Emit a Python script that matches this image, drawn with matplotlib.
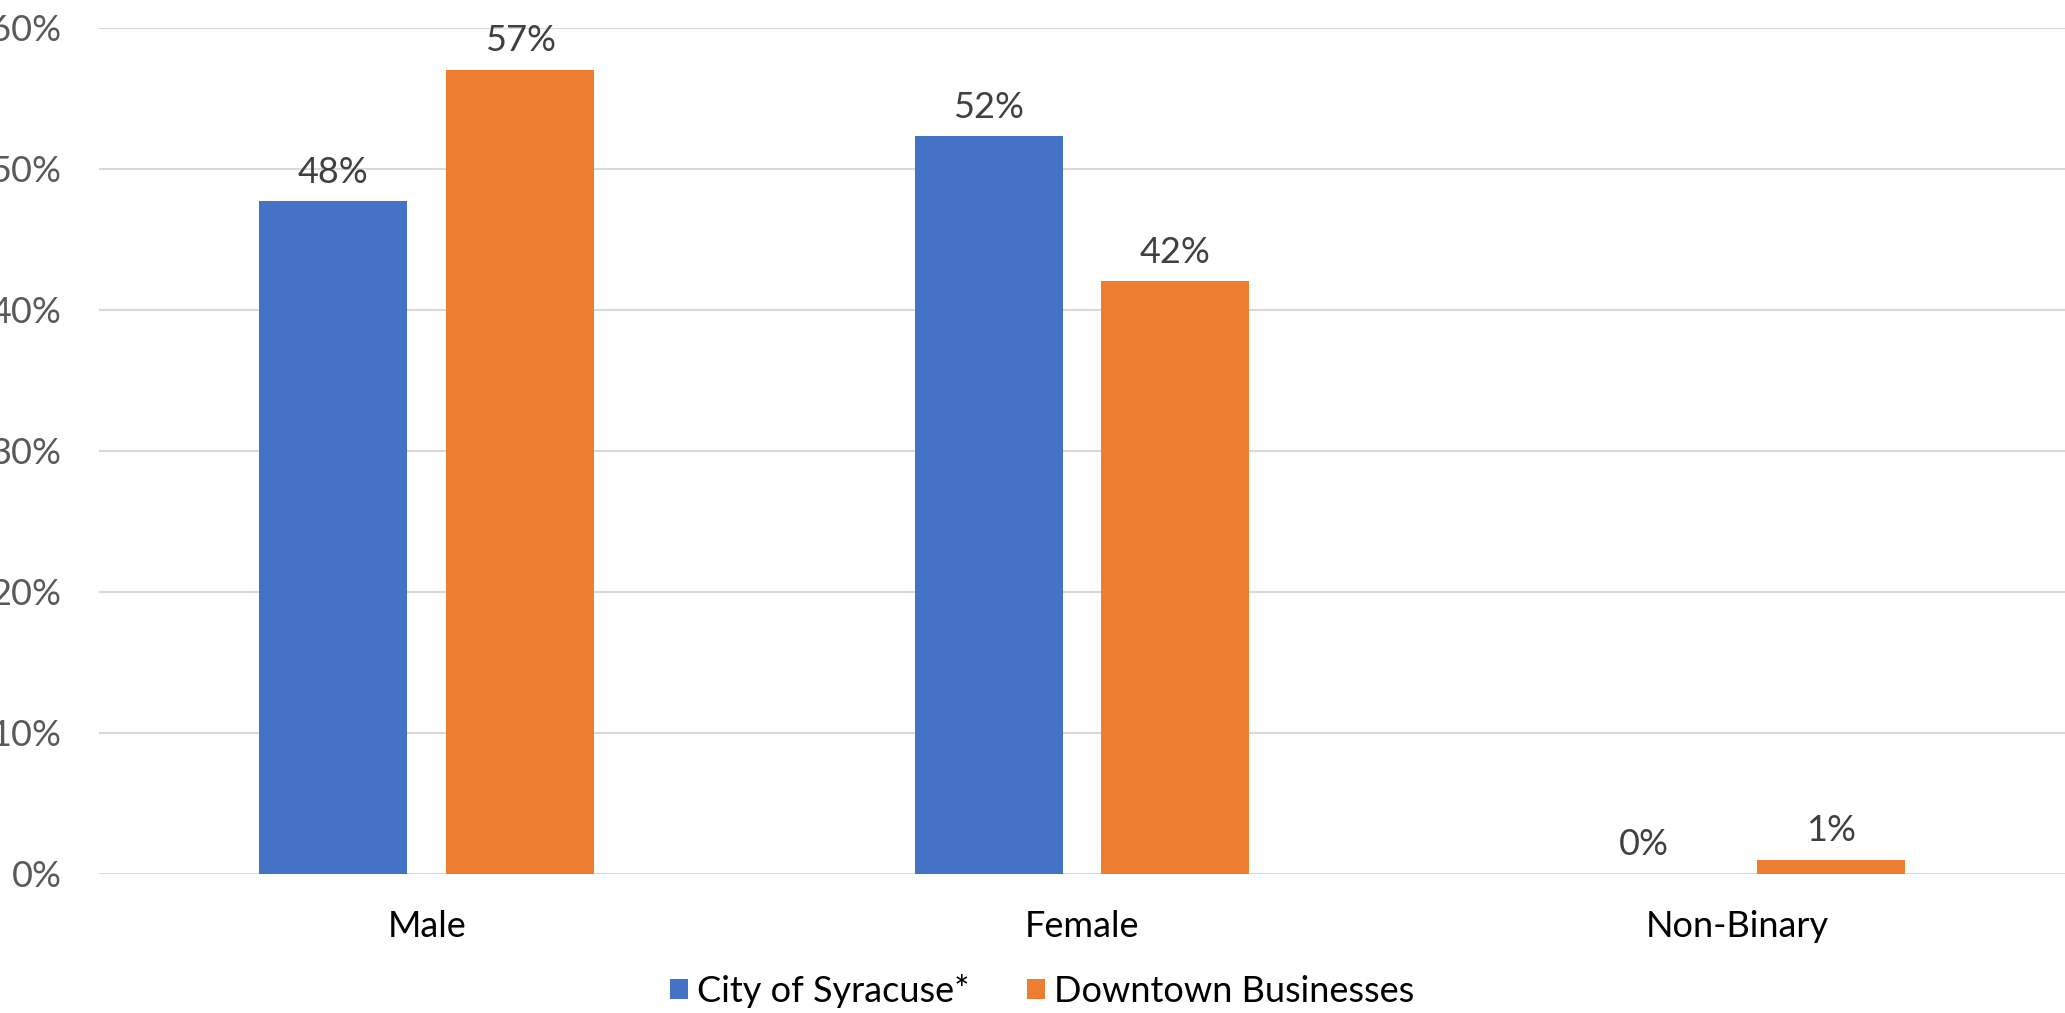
import matplotlib
matplotlib.use('Agg')
import matplotlib.pyplot as plt
import numpy as np
from matplotlib.ticker import PercentFormatter

categories = ['Male', 'Female', 'Non-Binary']
series_names = ['City of Syracuse*', 'Downtown Businesses']
city = [47.7, 52.3, 0.0]
downtown = [57.0, 42.0, 1.0]
city_labels = ['48%', '52%', '0%']
downtown_labels = ['57%', '42%', '1%']
colors = ['#4472C4', '#ED7D31']

plt.rcParams['font.family'] = ['Lato', 'DejaVu Sans']

fig = plt.figure(figsize=(20.65, 10.13), dpi=100)
ax = fig.add_axes([99 / 2065, 139.3 / 1013, 1 - 99 / 2065, (873.7 - 27.6) / 1013])

x = np.arange(len(categories))
w = 0.2256
off = w / 2 + 0.0297

bars1 = ax.bar(x - off, city, w, color=colors[0], label=series_names[0], zorder=3)
bars2 = ax.bar(x + off, downtown, w, color=colors[1], label=series_names[1], zorder=3)

for bars, labels in ((bars1, city_labels), (bars2, downtown_labels)):
    for b, lab in zip(bars, labels):
        ax.annotate(lab, (b.get_x() + b.get_width() / 2, b.get_height()),
                    xytext=(0, 9), textcoords='offset points',
                    ha='center', va='bottom', fontsize=26, color='#404040')

ax.set_xlim(-0.5, 2.5)
ax.set_ylim(0, 60)
ax.set_yticks(range(0, 61, 10))
ax.yaxis.set_major_formatter(PercentFormatter(decimals=0))
ax.set_xticks(x)
ax.set_xticklabels(categories)
ax.tick_params(axis='y', length=0, pad=27, labelsize=26, labelcolor='#595959')
ax.tick_params(axis='x', length=0, pad=26, labelsize=26, labelcolor='black')
ax.grid(axis='y', color='#D9D9D9', linewidth=1.5, zorder=0)
ax.set_axisbelow(True)
for s in ax.spines.values():
    s.set_visible(False)

fig.legend(handles=[bars1, bars2], labels=series_names, loc='center',
           bbox_to_anchor=(0.5046, 0.022), ncol=2, frameon=False,
           fontsize=26, handlelength=0.5, handleheight=0.5, handletextpad=0.25,
           columnspacing=1.6)

fig.savefig('out.png', dpi=100)
